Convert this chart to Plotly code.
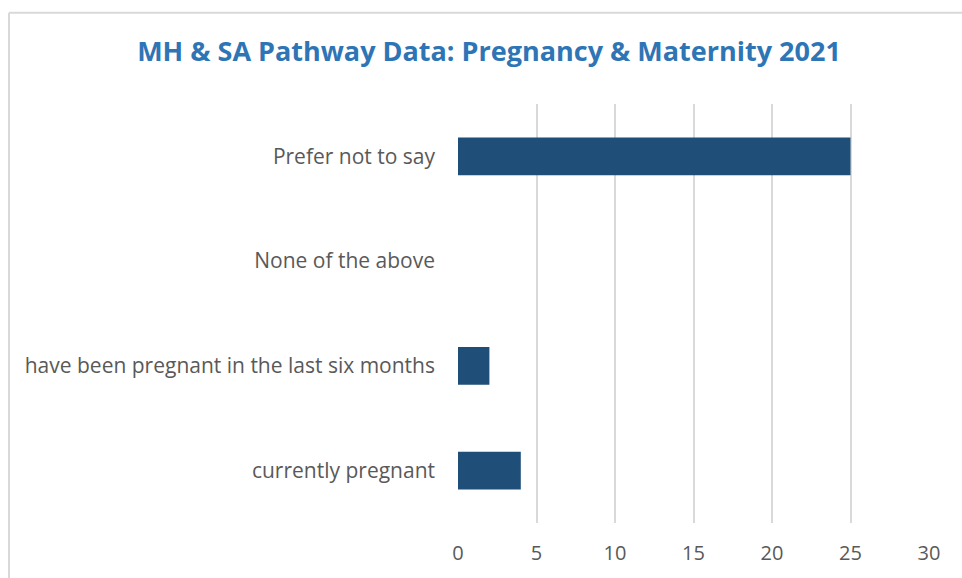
import plotly.graph_objects as go

categories = ["currently pregnant", "have been pregnant in the last six months", "None of the above", "Prefer not to say"]
values = [4, 2, 0, 25]
x_ticks = [0, 5, 10, 15, 20, 25, 30]

L, R, T, B = 458, 33, 104, 52
W, H = 962, 578
pw, ph = W - L - R, H - T - B

fig = go.Figure(go.Bar(
    y=categories, x=values, orientation="h",
    marker=dict(color="#1F4E79", line=dict(width=0)),
    width=0.36,
))

fig.update_layout(
    width=W, height=H,
    margin=dict(l=L, r=R, t=T, b=B),
    paper_bgcolor="white", plot_bgcolor="white",
    title=dict(text="<b>MH & SA Pathway Data: Pregnancy & Maternity 2021</b>",
               x=(489) / W, xanchor="center", y=1 - 52 / H, yanchor="middle",
               font=dict(family="Open Sans", size=27, color="#2E75B6")),
    font=dict(family="Open Sans", color="#595959"),
    showlegend=False,
    xaxis=dict(range=[0, 30], tickvals=x_ticks, showgrid=True, gridcolor="#D9D9D9", gridwidth=1.5,
               zeroline=False, showline=False, ticks="", tickfont=dict(size=20, color="#595959"),
               ticklabelstandoff=16),
    yaxis=dict(categoryorder="array", categoryarray=categories, range=[-0.5, 3.5],
               showgrid=False, zeroline=False, showline=False, ticks="",
               tickfont=dict(size=21, color="#595959"), ticklabelstandoff=22),
    shapes=[
        dict(type="line", xref="paper", yref="paper",
             x0=(9 - L) / pw, x1=(9 - L) / pw, y0=(H - T - 600) / ph, y1=(H - 12 - B) / ph,
             line=dict(color="#D9D9D9", width=2)),
        dict(type="line", xref="paper", yref="paper",
             x0=(9 - L) / pw, x1=(1000 - L) / pw, y0=(H - 12 - B) / ph, y1=(H - 12 - B) / ph,
             line=dict(color="#D9D9D9", width=2)),
    ],
)

fig.write_html("out.html", config={"displayModeBar": False},
               post_script="document.body.style.margin='0';document.body.style.overflow='hidden';")
